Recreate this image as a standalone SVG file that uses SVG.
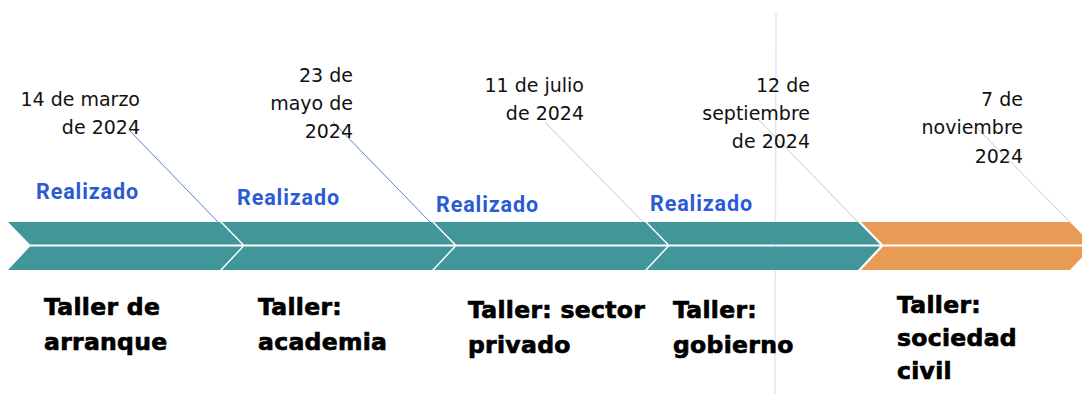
<svg xmlns="http://www.w3.org/2000/svg" width="1082" height="394" viewBox="0 0 1082 394">
<style>
.date{font-family:"DejaVu Sans","Open Sans",sans-serif;font-size:19px;fill:#111;text-anchor:end}
.done{font-family:Roboto,"Liberation Sans",sans-serif;font-weight:700;font-size:21.5px;letter-spacing:0.9px;fill:#2b5bd4}
.title{font-family:"DejaVu Sans","Open Sans",sans-serif;font-weight:700;font-size:23.5px;fill:#000;stroke:#000;stroke-width:0.7px;letter-spacing:0.3px}
.teal{fill:#41969a}
.orange{fill:#e89b55}
.lead{stroke-width:1;fill:none}
</style>
<rect width="1082" height="394" fill="#ffffff"/>
<line x1="776" y1="13" x2="775" y2="394" stroke="#dce9f3" stroke-width="1.5"/>
<g id="timeline">
<g id="seg1" class="teal"><polygon points="8,222 220,222 242,244.5 30,244.5"/><polygon points="30,246.5 242,246.5 220,270 8,270"/></g>
<g id="seg2" class="teal"><polygon points="222,222 432,222 454,244.5 244,244.5"/><polygon points="244,246.5 454,246.5 432,270 222,270"/></g>
<g id="seg3" class="teal"><polygon points="434,222 645,222 667,244.5 456,244.5"/><polygon points="456,246.5 667,246.5 645,270 434,270"/></g>
<g id="seg4" class="teal"><polygon points="647,222 858,222 880,244.5 669,244.5"/><polygon points="669,246.5 880,246.5 858,270 647,270"/></g>
<g id="seg5" class="orange"><polygon points="861,222 1070,222 1092,244.5 883,244.5"/><polygon points="883,246.5 1092,246.5 1070,270 861,270"/></g>
</g>
<g id="connectors" class="lead">
<line x1="130" y1="131" x2="218" y2="222" stroke="#5b7fe0"/>
<line x1="333" y1="122" x2="430" y2="222" stroke="#5b7fe0"/>
<line x1="545" y1="122" x2="643" y2="222" stroke="#c9c9c9"/>
<line x1="758" y1="119" x2="858" y2="222" stroke="#c9c9c9"/>
<line x1="977" y1="128" x2="1070" y2="222" stroke="#c9c9c9"/>
</g>
<g id="m1">
<text class="date" x="140" y="106">14 de marzo</text>
<text class="date" x="140" y="134">de 2024</text>
<text class="done" x="36" y="199">Realizado</text>
<text class="title" x="44" y="315">Taller de</text>
<text class="title" x="44" y="350">arranque</text>
</g>
<g id="m2">
<text class="date" x="353" y="82">23 de</text>
<text class="date" x="353" y="110">mayo de</text>
<text class="date" x="353" y="138">2024</text>
<text class="done" x="237" y="205">Realizado</text>
<text class="title" x="258" y="315">Taller:</text>
<text class="title" x="258" y="350">academia</text>
</g>
<g id="m3">
<text class="date" x="584" y="92">11 de julio</text>
<text class="date" x="584" y="120">de 2024</text>
<text class="done" x="436" y="212">Realizado</text>
<text class="title" x="468" y="318">Taller: sector</text>
<text class="title" x="468" y="353">privado</text>
</g>
<g id="m4">
<text class="date" x="810" y="92">12 de</text>
<text class="date" x="810" y="120">septiembre</text>
<text class="date" x="810" y="148">de 2024</text>
<text class="done" x="650" y="211">Realizado</text>
<text class="title" x="673" y="318">Taller:</text>
<text class="title" x="673" y="353">gobierno</text>
</g>
<g id="m5">
<text class="date" x="1023" y="106">7 de</text>
<text class="date" x="1023" y="134">noviembre</text>
<text class="date" x="1023" y="163">2024</text>
<text class="title" x="897" y="313">Taller:</text>
<text class="title" x="897" y="346">sociedad</text>
<text class="title" x="897" y="379">civil</text>
</g>
</svg>
